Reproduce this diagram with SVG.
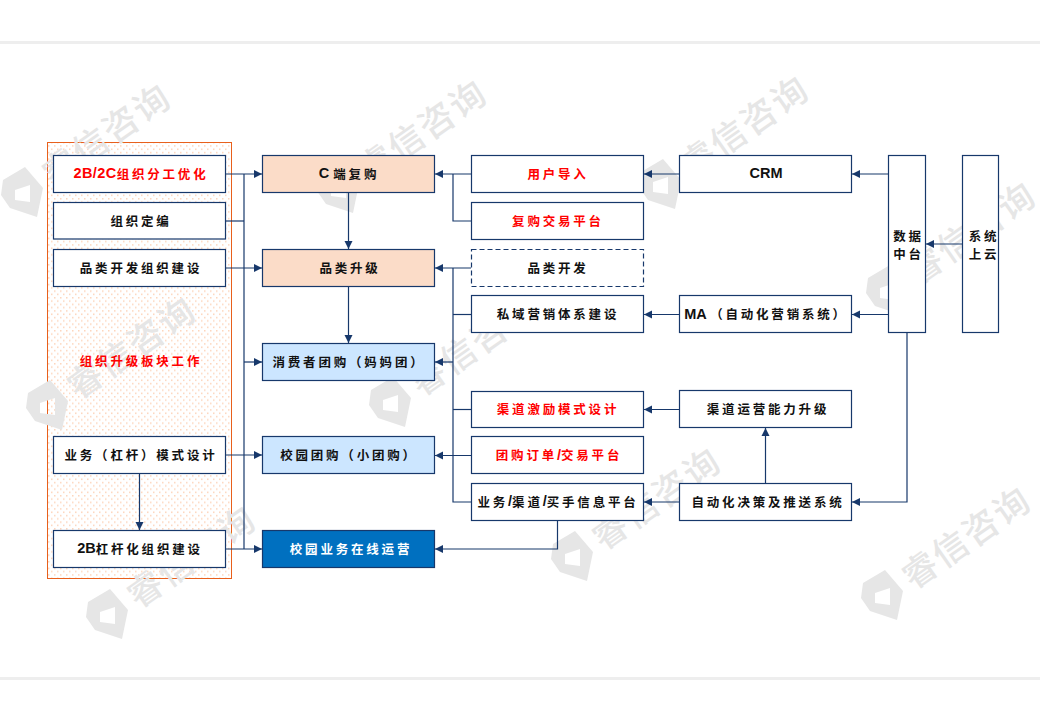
<svg xmlns="http://www.w3.org/2000/svg" width="1040" height="720" viewBox="0 0 1040 720">
<style>
.n{fill:#fff;stroke:#17386b;stroke-width:1.2}
.t{font-family:"Noto Sans CJK SC","Liberation Sans",sans-serif;font-size:12.5px;letter-spacing:2.8px;font-weight:700;fill:#111;text-anchor:middle;dominant-baseline:central}
.l{font-family:"Liberation Sans",sans-serif;font-size:14.500px;letter-spacing:0;font-weight:700}
.r{fill:#f00}
.w{fill:#fff}
.c path{fill:none;stroke:#17386b;stroke-width:1.2}
.a{marker-end:url(#ah)}
.wm text{font-family:"Noto Sans CJK SC","Liberation Sans",sans-serif;font-size:35px;font-weight:500;fill:#e6e6e6;letter-spacing:2px}
.wm path{fill:#e6e6e6;fill-rule:evenodd}
</style>
<defs>
<marker id="ah" markerUnits="userSpaceOnUse" markerWidth="9" markerHeight="9" refX="8" refY="4.500" orient="auto"><path d="M0 0.500L8 4.500L0 8.500z" fill="#17386b"/></marker>
<pattern id="dots" width="6" height="6.600" patternUnits="userSpaceOnUse"><rect width="6" height="6.600" fill="#fff"/><rect x="0" y="0" width="1.500" height="1.500" fill="#fdd5bc"/><rect x="3" y="3.300" width="1.500" height="1.500" fill="#fdd5bc"/></pattern>
<g id="wm" class="wm"><path d="M-19 -12L3 -25L21 -4L15 25L-12 16L-21 3ZM-7 -2L-7 8L8 10L8 -7Z"/><text transform="translate(31,-4.500) rotate(-35)">睿信咨询</text></g>
</defs>
<rect x="0" y="41" width="1040" height="3" fill="#eeeeee"/>
<rect x="0" y="677" width="1040" height="3" fill="#eeeeee"/>
<rect id="panel" x="47.500" y="142.500" width="184" height="436" fill="url(#dots)" stroke="#e8601c" stroke-width="1"/>
<g id="watermarks">
<use href="#wm" x="22" y="192"/><use href="#wm" x="338" y="188"/><use href="#wm" x="660" y="184"/><use href="#wm" x="887" y="290"/><use href="#wm" x="47" y="405"/><use href="#wm" x="390" y="402"/><use href="#wm" x="572" y="556"/><use href="#wm" x="107" y="614"/><use href="#wm" x="882" y="595"/>
</g>
<g id="connectors" class="c">
<path d="M244 174V549"/>
<path class="a" d="M226 174H262"/><path d="M226 221H244"/><path class="a" d="M226 268H262"/><path class="a" d="M244 362H262"/><path class="a" d="M226 455H262"/><path class="a" d="M226 549H262"/>
<path class="a" d="M139.500 474V530"/>
<path class="a" d="M348.500 192V249"/><path class="a" d="M348.500 286V343"/>
<path class="a" d="M471 174H435"/><path d="M453 174V221H471"/>
<path class="a" d="M471 268H435"/><path d="M453 268V502H471"/><path d="M453 314.500H471"/><path d="M453 409.500H471"/><path class="a" d="M453 362H435"/>
<path class="a" d="M471 455.500H435"/>
<path class="a" d="M557.500 520V549H435"/>
<path class="a" d="M679 174H644"/><path class="a" d="M888 174H852"/><path class="a" d="M888 314.500H852"/><path class="a" d="M679 314.500H644"/><path class="a" d="M962 244H926"/>
<path class="a" d="M679 409.500H644"/><path class="a" d="M765.500 483V428"/><path class="a" d="M679 502H644"/><path class="a" d="M907 332V502H852"/>
</g>
<g id="n1"><rect class="n" x="53.500" y="155.500" width="172" height="37"/><text class="t r" x="141" y="173"><tspan class="l" style="letter-spacing:.4px">2B/2C</tspan>组织分工优化</text></g>
<g id="n2"><rect class="n" x="53.500" y="202.500" width="172" height="36.500"/><text class="t" x="141" y="220">组织定编</text></g>
<g id="n3"><rect class="n" x="53.500" y="249.500" width="172" height="37"/><text class="t" x="141" y="267">品类开发组织建设</text></g>
<g id="n4"><text class="t r" x="141" y="360">组织升级板块工作</text></g>
<g id="n5"><rect class="n" x="53.500" y="436.500" width="172" height="37"/><text class="t" x="141" y="454.500">业务（杠杆）模式设计</text></g>
<g id="n6"><rect class="n" x="53.500" y="530.500" width="172" height="37"/><text class="t" x="140" y="548"><tspan class="l">2B</tspan>杠杆化组织建设</text></g>
<g id="m1"><rect class="n" x="262.500" y="155.500" width="172" height="37" style="fill:#fbdcc8"/><text class="t" x="349" y="173"><tspan class="l">C </tspan>端复购</text></g>
<g id="m2"><rect class="n" x="262.500" y="249.500" width="172" height="37" style="fill:#fbdcc8"/><text class="t" x="350" y="267">品类升级</text></g>
<g id="m3"><rect class="n" x="262.500" y="343.500" width="172" height="37" style="fill:#cce6ff"/><text class="t" x="349" y="361">消费者团购（妈妈团）</text></g>
<g id="m4"><rect class="n" x="262.500" y="436.500" width="172" height="37" style="fill:#cce6ff"/><text class="t" x="349" y="454.500">校园团购（小团购）</text></g>
<g id="m5"><rect class="n" x="262.500" y="530.500" width="172" height="37" style="fill:#0070c0"/><text class="t w" x="351" y="548">校园业务在线运营</text></g>
<g id="r1"><rect class="n" x="471.500" y="155.500" width="172" height="37"/><text class="t r" x="558" y="173">用户导入</text></g>
<g id="r2"><rect class="n" x="471.500" y="202.500" width="172" height="37"/><text class="t r" x="558" y="220">复购交易平台</text></g>
<g id="r3"><rect class="n" x="471.500" y="249.500" width="172" height="37" stroke-dasharray="5 3"/><text class="t" x="558" y="267">品类开发</text></g>
<g id="r4"><rect class="n" x="471.500" y="295.500" width="172" height="37"/><text class="t" x="558" y="313.500">私域营销体系建设</text></g>
<g id="r5"><rect class="n" x="471.500" y="391.500" width="172" height="36"/><text class="t r" x="558" y="408.500">渠道激励模式设计</text></g>
<g id="r6"><rect class="n" x="471.500" y="436.500" width="172" height="37"/><text class="t r" x="559" y="454.500">团购订单<tspan class="l">/</tspan>交易平台</text></g>
<g id="r7"><rect class="n" x="471.500" y="483.500" width="172" height="37"/><text class="t" x="558" y="501">业务<tspan class="l">/</tspan>渠道<tspan class="l">/</tspan>买手信息平台</text></g>
<g id="s1"><rect class="n" x="679.500" y="155.500" width="172" height="37"/><text class="t l" x="766" y="173">CRM</text></g>
<g id="s2"><rect class="n" x="679.500" y="295.500" width="172" height="37"/><text class="t" x="766" y="313.500"><tspan class="l">MA </tspan>（自动化营销系统）</text></g>
<g id="s3"><rect class="n" x="679.500" y="390.500" width="172" height="37"/><text class="t" x="768" y="408.500">渠道运营能力升级</text></g>
<g id="s4"><rect class="n" x="679.500" y="483.500" width="172" height="37"/><text class="t" x="768" y="501">自动化决策及推送系统</text></g>
<g id="d1"><rect class="n" x="888.500" y="155.500" width="37" height="177"/><text class="t" x="908.500" y="235">数据</text><text class="t" x="908.500" y="253">中台</text></g>
<g id="d2"><rect class="n" x="962.500" y="155.500" width="36" height="177"/><text class="t" x="984" y="235">系统</text><text class="t" x="984" y="253">上云</text></g>
</svg>
